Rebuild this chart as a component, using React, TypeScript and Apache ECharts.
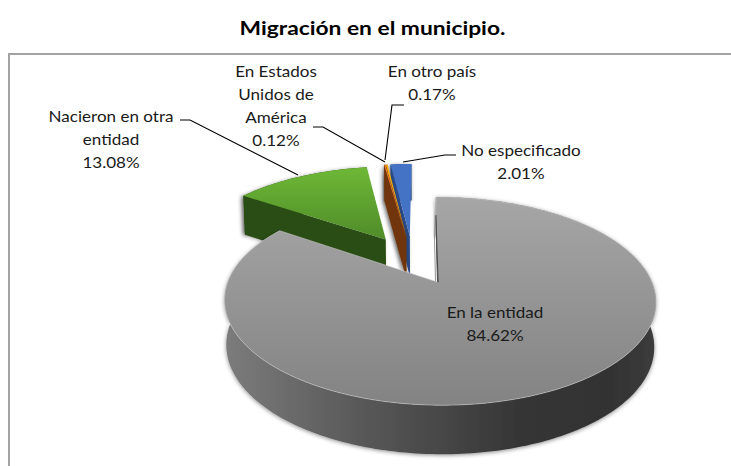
import React, { useEffect, useRef } from "react";
import * as echarts from "echarts";

const titleText = "Migración en el municipio.";
// order of the slices clockwise from 12 o'clock
const categories = ["En la entidad", "Nacieron en otra\nentidad", "En Estados\nUnidos de\nAmérica", "En otro país", "No especificado"];
const values = [84.62, 13.08, 0.12, 0.17, 2.01];
const topColors = [
  ["#a6a6a6", "#838383"],
  ["#6eb836", "#4f8c29"],
  ["#ed7d31", "#ed7d31"],
  ["#ffb000", "#ffb000"],
  ["#4472c4", "#4472c4"],
];
const sideColors = ["#3a3a3a", "#2c4e13", "#6f350a", "#7a3d0a", "#2a4a85"];
const drawOrder = [4, 3, 2, 1, 0];

const labelCenters = [
  [495, 323.5],
  [111, 139],
  [276, 105.5],
  [432, 82.5],
  [521, 161.5],
];
const leaders: (number[][] | null)[] = [
  null,
  [[180, 120], [190, 120], [298, 175]],
  [[313, 127], [323, 127], [385, 162]],
  [[404, 105], [392, 105], [385, 160]],
  [[456, 155], [445, 155], [403, 162]],
];

// projection of the tilted pie
const ORIGIN_X = 438.5;
const ORIGIN_Y = 282;
const W = 212;
const H = 100.5;
const K = 0.1827;
const J = -0.008;
const SHEAR = 2.3;
const EXPLODE = 0.265;
const OFFSET_U = -0.125;
const OFFSET_V = 0.233;

const total = values.reduce((a, b) => a + b, 0);
const startAngles: number[] = [];
values.reduce((acc, v, i) => {
  startAngles[i] = (acc / total) * Math.PI * 2;
  return acc + v;
}, 0);

function depthAt(v: number) {
  return 44 - 5 * v;
}

function project(u: number, v: number, bottom: boolean): number[] {
  const d = 1 + K * v + J * u;
  const x = W * u / d - SHEAR * v;
  const y = -H * v / d;
  if (!bottom) return [ORIGIN_X + x, ORIGIN_Y + y];
  return [ORIGIN_X + x * 0.992, ORIGIN_Y + y + depthAt(v)];
}

function sliceGeometry(index: number) {
  const a0 = startAngles[index];
  const a1 = a0 + (values[index] / total) * Math.PI * 2;
  const mid = (a0 + a1) / 2;
  const cu = OFFSET_U + EXPLODE * Math.sin(mid);
  const cv = OFFSET_V + EXPLODE * Math.cos(mid);
  const steps = Math.max(2, Math.ceil((a1 - a0) / 0.02));
  const top: number[][] = [];
  const low: number[][] = [];
  for (let i = 0; i <= steps; i++) {
    const a = a0 + ((a1 - a0) * i) / steps;
    const u = cu + Math.sin(a);
    const v = cv + Math.cos(a);
    top.push(project(u, v, false));
    low.push(project(u, v, true));
  }
  return { apexTop: project(cu, cv, false), apexLow: project(cu, cv, true), top, low };
}

function vGradient(c: string[]) {
  return new echarts.graphic.LinearGradient(0, 0, 0, 1, [
    { offset: 0, color: c[0] },
    { offset: 1, color: c[1] },
  ]);
}

const renderSlice = (params: any, api: any) => {
  const index = drawOrder[params.dataIndex];
  const g = sliceGeometry(index);
  const isMain = index === 0;
  const children: any[] = [];
  // outer wall
  children.push({
    type: "polygon",
    silent: true,
    shape: { points: [...g.top, ...g.low.slice().reverse()] },
    style: {
      fill: isMain
        ? new echarts.graphic.LinearGradient(0, 0, 1, 0, [
            { offset: 0, color: "#7c7c7c" },
            { offset: 0.3, color: "#5a5a5a" },
            { offset: 0.7, color: "#343434" },
            { offset: 0.9, color: "#333333" },
            { offset: 1, color: "#3c3c3c" },
          ])
        : sideColors[index],
      shadowBlur: 4,
      shadowColor: "rgba(0,0,0,0.45)",
      shadowOffsetX: isMain ? 0 : -1,
      shadowOffsetY: 1,
    },
  });
  // radial wall on the side where the slice starts
  children.push({
    type: "polygon",
    silent: true,
    shape: { points: [g.apexTop, g.top[0], g.low[0], g.apexLow] },
    style: {
      fill: sideColors[index],
      shadowBlur: isMain ? 0 : 4,
      shadowColor: "rgba(0,0,0,0.4)",
      shadowOffsetX: -2,
    },
  });
  // flat top face
  children.push({
    type: "polygon",
    silent: true,
    shape: { points: [g.apexTop, ...g.top] },
    style: {
      fill: vGradient(topColors[index]),
      stroke: isMain ? "rgba(205,205,205,0.55)" : "none",
      lineWidth: isMain ? 1 : 0,
    },
  });
  if (isMain) {
    children.push({
      type: "polyline",
      silent: true,
      shape: { points: [[g.top[0][0], g.top[0][1] + 18], g.apexTop] },
      style: { stroke: "#4a4a4a", lineWidth: 1.2, fill: "none" },
    });
  }
  return { type: "group", children };
};

const renderLabel = (params: any, api: any) => {
  const i = params.dataIndex;
  const children: any[] = [];
  const path = leaders[i];
  if (path) {
    children.push({
      type: "polyline",
      silent: true,
      shape: { points: path },
      style: { stroke: "#000000", lineWidth: 1.1, fill: "none" },
    });
  }
  children.push({
    type: "text",
    silent: true,
    x: labelCenters[i][0],
    y: labelCenters[i][1],
    scaleX: 1.1,
    style: {
      text: `${categories[i]}\n${values[i].toFixed(2)}%`,
      fill: "#1a1a1a",
      font: "15.5px Lato",
      lineHeight: 23,
      align: "center",
      verticalAlign: "middle",
    },
  });
  return { type: "group", children };
};

export default function App() {
  const ref = useRef<HTMLDivElement>(null);
  useEffect(() => {
    document.body.style.margin = "0";
    const chart = echarts.init(ref.current!, null, { renderer: "svg" });
    chart.setOption({
      animation: false,
      backgroundColor: "#ffffff",
      graphic: [
        {
          type: "polyline",
          silent: true,
          shape: { points: [[9, 466], [9, 54], [731, 54]] },
          style: { stroke: "#a3a3a3", lineWidth: 2, fill: "none" },
        },
        {
          type: "text",
          silent: true,
          x: 372.5,
          y: 27,
          scaleX: 1.2,
          style: {
            text: titleText,
            fill: "#000000",
            font: "bold 19px Lato",
            align: "center",
            verticalAlign: "middle",
          },
        },
      ],
      series: [
        {
          type: "custom",
          coordinateSystem: "none",
          silent: true,
          z: 2,
          data: drawOrder.map((i) => values[i]),
          renderItem: renderSlice,
        },
        {
          type: "custom",
          coordinateSystem: "none",
          silent: true,
          z: 3,
          data: values,
          renderItem: renderLabel,
        },
      ],
    });
    return () => chart.dispose();
  }, []);
  return <div ref={ref} style={{ width: 731, height: 466 }} />;
}
